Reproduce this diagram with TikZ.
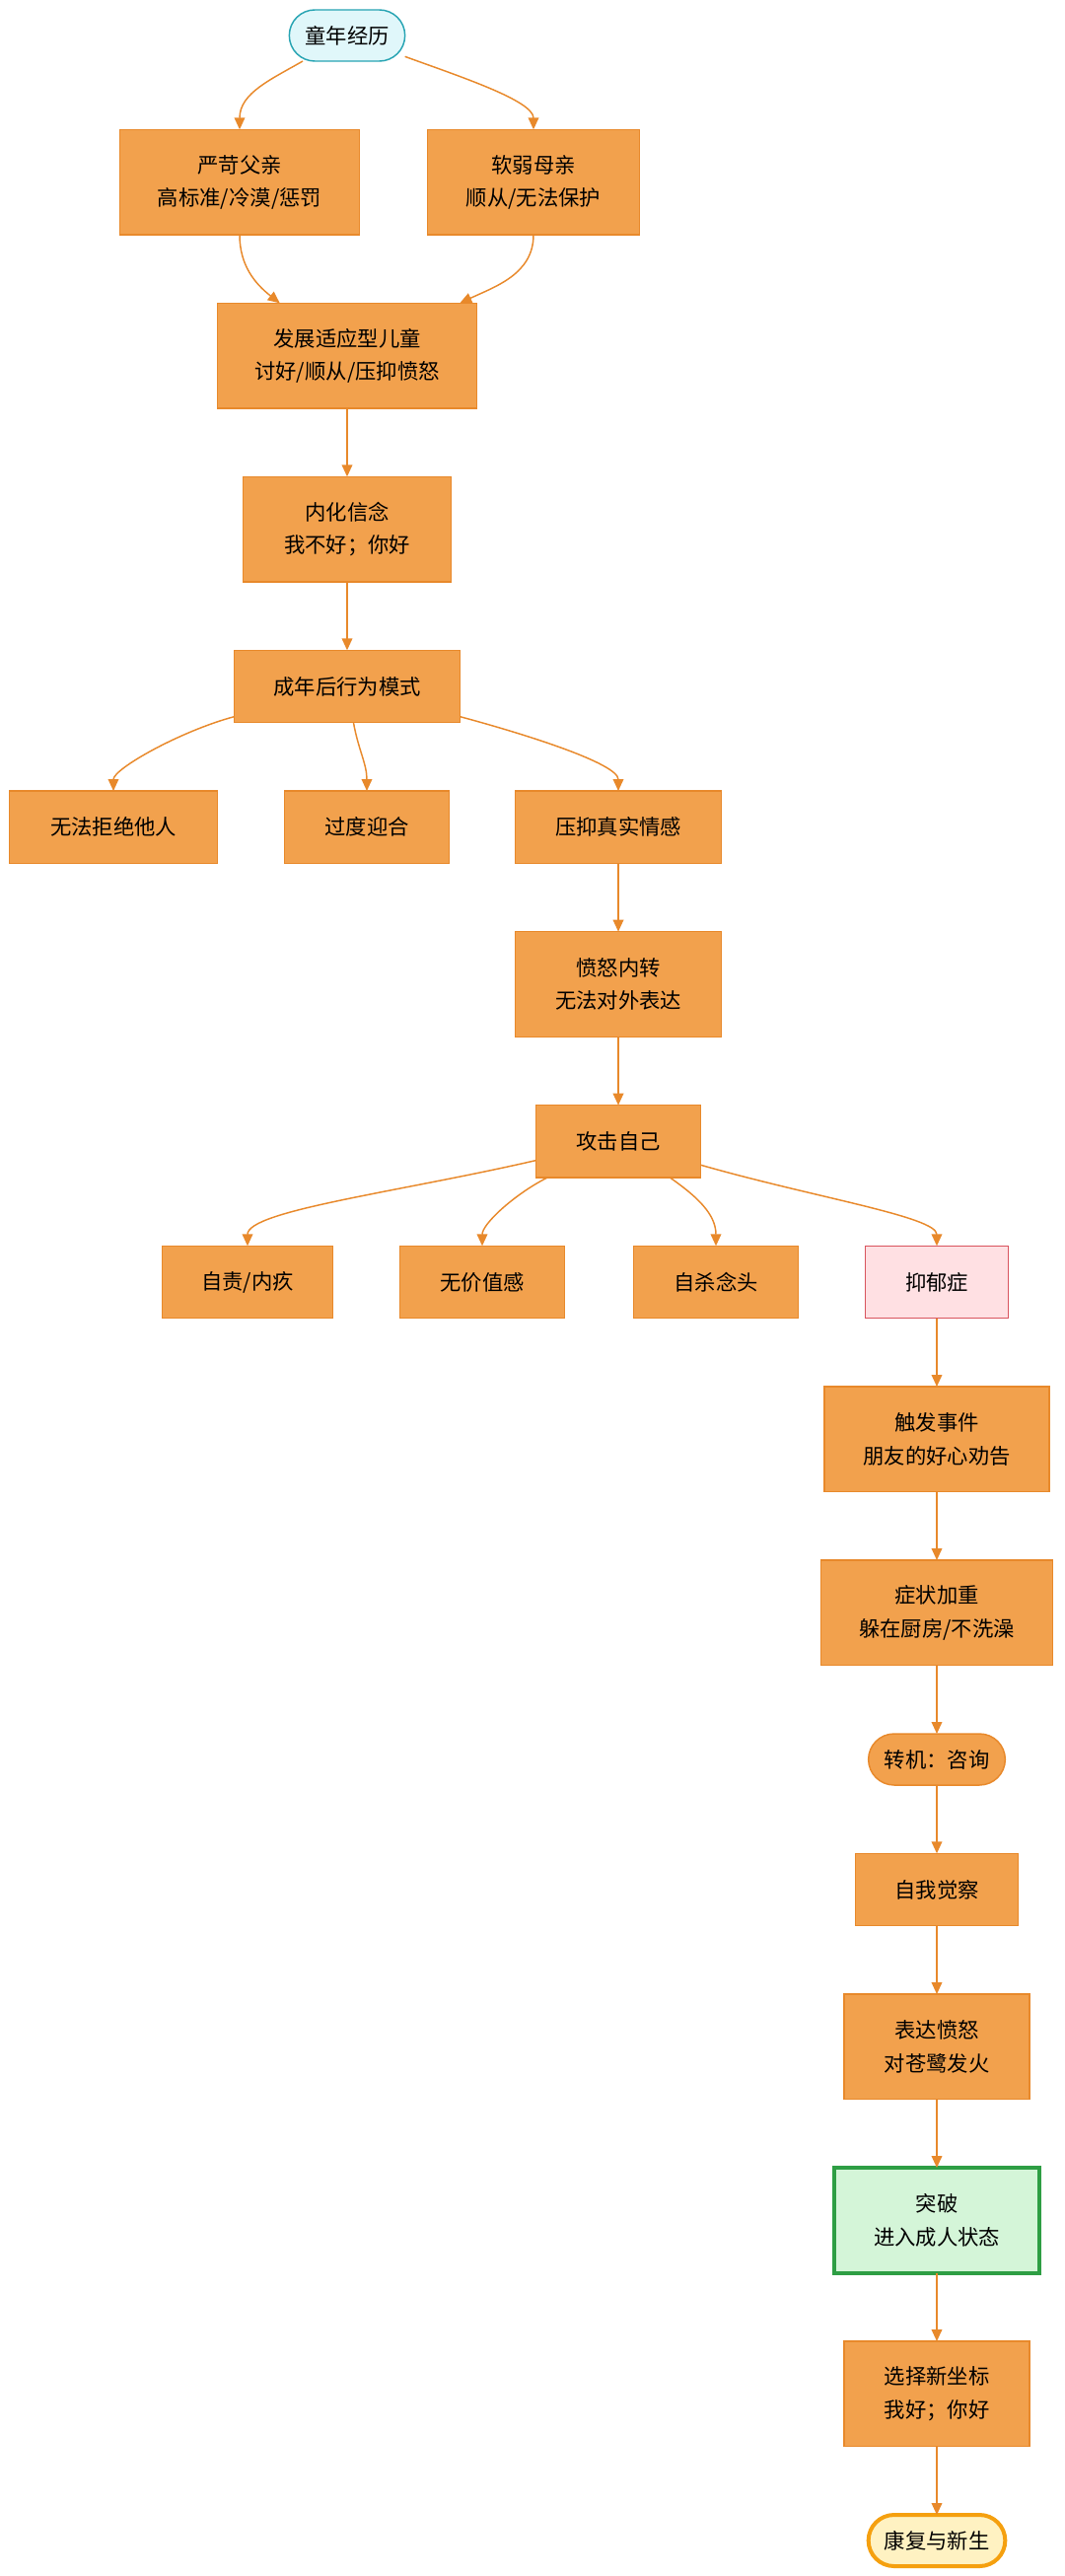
\documentclass[tikz,border=0pt]{standalone}
\usepackage{fontspec}
\setmainfont{Noto Sans CJK SC}
\usepackage{xcolor}
\usepackage{tikz}
\usetikzlibrary{arrows.meta,positioning}
\definecolor{healorange}{HTML}{F2A14D}
\definecolor{healedge}{HTML}{E8892B}
\definecolor{healice}{HTML}{E0F7FA}
\definecolor{healteal}{HTML}{27A4B3}
\definecolor{healpink}{HTML}{FFE0E3}
\definecolor{healred}{HTML}{D9545E}
\definecolor{healmint}{HTML}{D4F5D8}
\definecolor{healgreen}{HTML}{2E9E44}
\definecolor{healcream}{HTML}{FFF2C2}
\definecolor{healgold}{HTML}{F5A00F}

\begin{document}
\begin{tikzpicture}[
  node distance=52pt,
  box/.style={draw=healedge, fill=healorange, line width=1.1pt, outer sep=0pt, align=center, font=\fontsize{16}{25}\selectfont, minimum height=55pt, inner sep=4pt},
  tall/.style={box, minimum height=80pt},
  pill/.style={box, rounded corners=19.5pt, minimum height=39pt},
  flow/.style={->, draw=healedge, line width=1.1pt},
  >={Triangle[length=9pt,width=8pt]}
]
\useasboundingbox (0,0) rectangle (810pt,-1959pt);

% childhood
\node[pill, fill=healice, draw=healteal, minimum width=88pt] (child) at (264pt,-27pt) {童年经历};
\node[tall, minimum width=182pt, below=of child, xshift=-81.75pt] (father) {严苛父亲\\高标准/冷漠/惩罚};
\node[tall, minimum width=161pt, below=of child, xshift=141.75pt] (mother) {软弱母亲\\顺从/无法保护};
\node[tall, minimum width=197pt, below=of father, xshift=81.75pt] (adapt) {发展适应型儿童\\讨好/顺从/压抑愤怒};
\node[tall, minimum width=158pt, below=of adapt] (belief) {内化信念\\我不好；你好};
\node[box, minimum width=172pt, below=of belief] (pattern) {成年后行为模式};

% adult patterns
\node[box, minimum width=158pt, below=of pattern, xshift=-177.75pt] (refuse) {无法拒绝他人};
\node[box, minimum width=125pt, below=of pattern, xshift=15pt] (please) {过度迎合};
\node[box, minimum width=157pt, below=of pattern, xshift=206.25pt] (suppress) {压抑真实情感};
\node[tall, minimum width=157pt, below=of suppress] (angerin) {愤怒内转\\无法对外表达};
\node[box, minimum width=125pt, below=of angerin] (attack) {攻击自己};

\node[box, minimum width=130pt, below=of attack, xshift=-282pt] (guilt) {自责/内疚};
\node[box, minimum width=125pt, below=of attack, xshift=-103.5pt] (worthless) {无价值感};
\node[box, minimum width=125pt, below=of attack, xshift=74.25pt] (suicide) {自杀念头};
\node[box, minimum width=109pt, fill=healpink, draw=healred, below=of attack, xshift=242.25pt] (depress) {抑郁症};

% recovery
\node[tall, minimum width=171pt, below=of depress] (trigger) {触发事件\\朋友的好心劝告};
\node[tall, minimum width=176pt, below=of trigger] (worse) {症状加重\\躲在厨房/不洗澡};
\node[pill, minimum width=104pt, below=of worse] (turn) {转机：咨询};
\node[box, minimum width=124pt, below=of turn] (aware) {自我觉察};
\node[tall, minimum width=141pt, below=of aware] (express) {表达愤怒\\对苍鹭发火};
\node[tall, minimum width=156pt, fill=healmint, draw=healgreen, line width=3pt, below=of express] (breakthrough) {突破\\进入成人状态};
\node[tall, minimum width=141pt, below=of breakthrough] (newcoord) {选择新坐标\\我好；你好};
\node[pill, minimum width=104pt, fill=healcream, draw=healgold, line width=3pt, below=of newcoord] (reborn) {康复与新生};

\draw[flow] (child) to[out=210, in=90] (father);
\draw[flow] (child) to[out=-20, in=90, in looseness=0.5] (mother);
\draw[flow] (father) to[out=-90, in=142] (adapt);
\draw[flow] (mother) to[out=-90, in=25] (adapt);

\draw[flow] (pattern) to[out=195, in=90, in looseness=0.4] (refuse);
\draw[flow] (pattern) to[out=-80, in=90] (please);
\draw[flow] (pattern) to[out=-15, in=90, in looseness=0.4] (suppress);

\draw[flow] (attack) to[out=193, in=90, out looseness=1.2, in looseness=0.3] (guilt);
\draw[flow] (attack) to[out=207, in=90, in looseness=0.6] (worthless);
\draw[flow] (attack) to[out=-35, in=90] (suicide);
\draw[flow] (attack) to[out=-16, in=90, out looseness=1.2, in looseness=0.3] (depress);

\foreach \a/\b in {adapt/belief, belief/pattern, suppress/angerin, angerin/attack,
  depress/trigger, trigger/worse, worse/turn, turn/aware, aware/express,
  express/breakthrough, breakthrough/newcoord, newcoord/reborn}
  \draw[flow] (\a) -- (\b);

\end{tikzpicture}
\end{document}
